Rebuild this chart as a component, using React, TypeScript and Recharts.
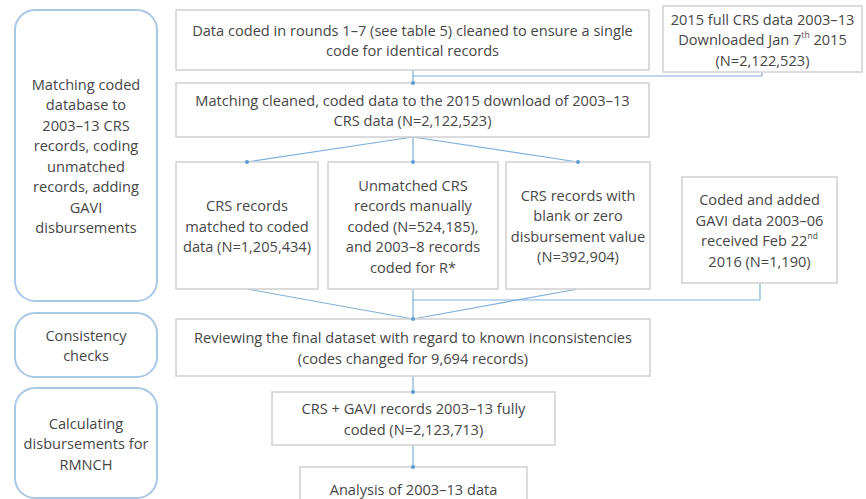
import React from 'react';
import { ScatterChart, Scatter, XAxis, YAxis, ReferenceLine, ReferenceDot } from 'recharts';

const W = 866;
const H = 499;

// left-hand phase captions
const phaseIds = ['matchPhase', 'checkPhase', 'calcPhase'];
const phaseText = [
  ['Matching coded', 'database to', '2003–13 CRS', 'records, coding', 'unmatched', 'records, adding', 'GAVI', 'disbursements'],
  ['Consistency', 'checks'],
  ['Calculating', 'disbursements for', 'RMNCH'],
];

// process steps
const stepIds = ['coded', 'crs2015', 'matching', 'matched', 'unmatched', 'blank', 'gavi', 'review', 'full', 'analysis'];
const stepText = [
  ['Data coded in rounds 1–7 (see table 5) cleaned to ensure a single', 'code for identical records'],
  ['2015 full CRS data 2003–13', 'Downloaded Jan 7^th 2015', '(N=2,122,523)'],
  ['Matching cleaned, coded data to the 2015 download of 2003–13', 'CRS data (N=2,122,523)'],
  ['CRS records', 'matched to coded', 'data (N=1,205,434)'],
  ['Unmatched CRS', 'records manually', 'coded (N=524,185),', 'and 2003–8 records', 'coded for R*'],
  ['CRS records with', 'blank or zero', 'disbursement value', '(N=392,904)'],
  ['Coded and added', 'GAVI data 2003–06', 'received Feb 22^nd', '2016 (N=1,190)'],
  ['Reviewing the final dataset with regard to known inconsistencies', '(codes changed for 9,694 records)'],
  ['CRS + GAVI records 2003–13 fully', 'coded (N=2,123,713)'],
  ['Analysis of 2003–13 data'],
];

// layout: box corners in chart units [x0, y0, x1, y1]
const frames: Record<string, number[]> = {
  matchPhase: [15, 10, 157, 301],
  checkPhase: [15, 313, 157, 377],
  calcPhase: [15, 388, 157, 498],
  coded: [176, 10, 649, 70],
  crs2015: [663, 6, 862, 72],
  matching: [176, 83, 649, 137],
  matched: [176, 162, 318, 289],
  unmatched: [328, 162, 498, 289],
  blank: [506, 162, 650, 289],
  gavi: [682, 177, 837, 283],
  review: [176, 319, 650, 376],
  full: [272, 392, 555, 445],
  analysis: [300, 467, 527, 510],
};

// connectors [x1, y1, x2, y2, arrowhead]
const links: [number, number, number, number, boolean][] = [
  [413, 70, 413, 83, true],
  [762, 72, 762, 76, false],
  [762, 76, 413, 76, false],
  [413, 137, 247, 162, true],
  [413, 137, 413, 162, true],
  [413, 137, 578, 162, true],
  [247, 289, 413, 319, false],
  [413, 289, 413, 319, false],
  [578, 289, 413, 319, true],
  [760, 283, 760, 300, false],
  [760, 300, 413, 300, false],
  [413, 376, 413, 392, true],
  [413, 445, 413, 467, true],
];

const toPoint = (id: string, lines: string[], kind: string) => {
  const f = frames[id];
  return { x: (f[0] + f[2]) / 2, y: (f[1] + f[3]) / 2, w: f[2] - f[0], h: f[3] - f[1], lines, kind };
};

const phasePoints = phaseIds.map((id, i) => toPoint(id, phaseText[i], 'phase'));
const stepPoints = stepIds.map((id, i) => toPoint(id, stepText[i], 'step'));

const FONT = '"Open Sans", sans-serif';
const LH = 20.5;

const renderLine = (line: string, x: number, y: number, key: number) => {
  const m = line.match(/^(.*)\^(\S+)(.*)$/);
  return (
    <text key={key} x={x} y={y} textAnchor="middle" dominantBaseline="central" fontFamily={FONT} fontSize={14.6} fill="#474747">
      {m ? (
        <>
          <tspan>{m[1]}</tspan>
          <tspan fontSize={8.5} dy={-5}>{m[2]}</tspan>
          <tspan dy={5}>{m[3]}</tspan>
        </>
      ) : (
        line
      )}
    </text>
  );
};

const BoxShape = (props: any) => {
  const { cx, cy, payload } = props;
  const { w, h, lines, kind } = payload;
  const phase = kind === 'phase';
  const top = cy - ((lines.length - 1) * LH) / 2;
  return (
    <g>
      <rect
        x={cx - w / 2}
        y={cy - h / 2}
        width={w}
        height={h}
        rx={phase ? 20 : 0}
        fill="#fff"
        stroke={phase ? '#a9c8e6' : '#cfcfcf'}
        strokeWidth={phase ? 2 : 1.5}
      />
      {lines.map((ln: string, i: number) => renderLine(ln, cx, top + i * LH, i))}
    </g>
  );
};

export default function App() {
  return (
    <div style={{ position: 'absolute', left: 0, top: 0, width: W, height: H, background: '#fff' }}>
      <ScatterChart width={W} height={H} margin={{ top: 0, right: 0, bottom: 0, left: 0 }}>
        <XAxis type="number" dataKey="x" domain={[0, W]} hide />
        <YAxis type="number" dataKey="y" domain={[0, H]} reversed hide />
        {links.map(([x1, y1, x2, y2], i) => (
          <ReferenceLine
            key={`l${i}`}
            segment={[{ x: x1, y: y1 }, { x: x2, y: y2 }]}
            stroke="#7fb0dc"
            strokeWidth={1.2}
            ifOverflow="visible"
          />
        ))}
        <Scatter data={phasePoints} shape={BoxShape} isAnimationActive={false} />
        <Scatter data={stepPoints} shape={BoxShape} isAnimationActive={false} />
        {links
          .filter((l) => l[4])
          .map(([, , x2, y2], i) => (
            <ReferenceDot key={`d${i}`} x={x2} y={y2} r={2} fill="#5b9bd5" stroke="none" ifOverflow="visible" />
          ))}
      </ScatterChart>
    </div>
  );
}
